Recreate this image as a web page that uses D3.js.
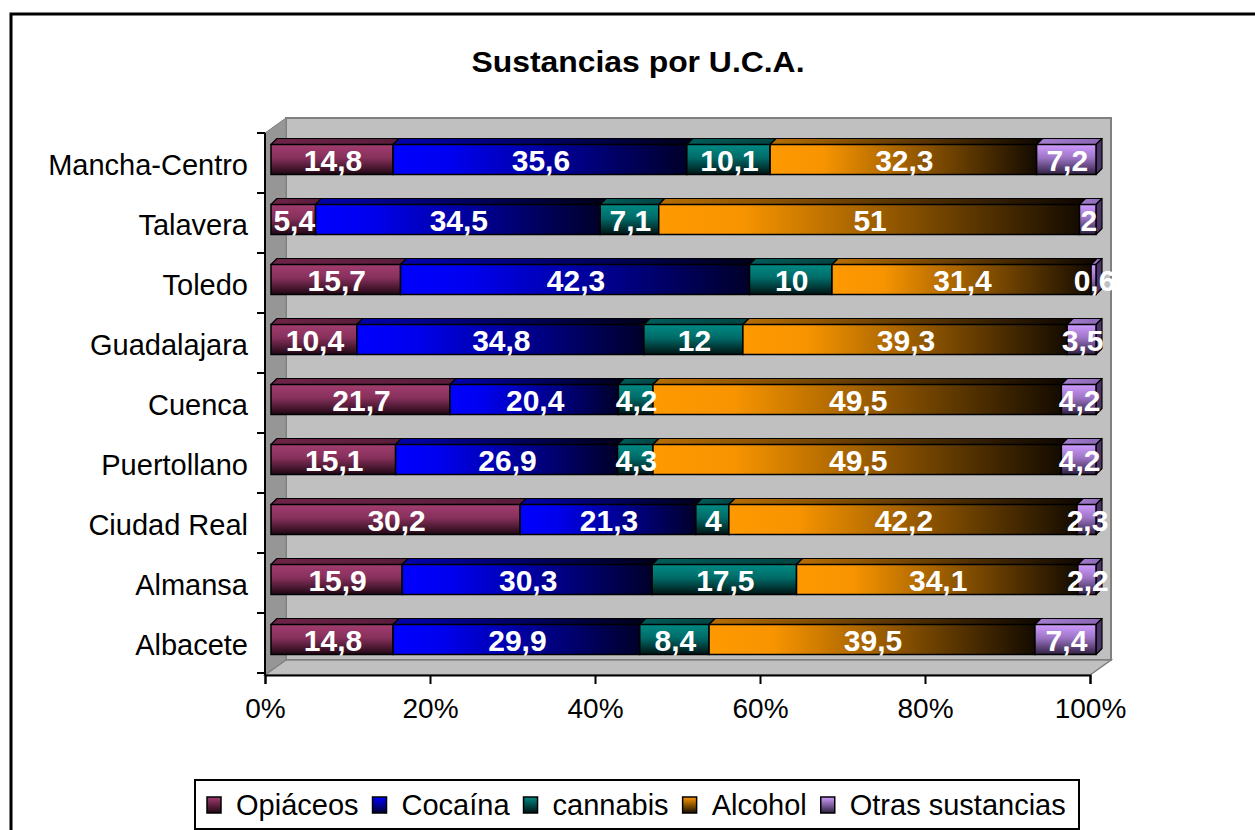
<!DOCTYPE html>
<html>
<head>
<meta charset="utf-8">
<script src="https://cdn.jsdelivr.net/npm/d3@7"></script>
<style>
  html, body { margin: 0; padding: 0; background: #fff; }
  svg { display: block; }
  text { font-family: "Liberation Sans", Arial, sans-serif; }
</style>
</head>
<body>
<svg id="chart" width="1255" height="830"></svg>
<script>
// ---- data ----
const categories = ["Mancha-Centro", "Talavera", "Toledo", "Guadalajara", "Cuenca", "Puertollano", "Ciudad Real", "Almansa", "Albacete"];
const seriesNames = ["Opiáceos", "Cocaína", "cannabis", "Alcohol", "Otras sustancias"];
const opiaceos = [14.8, 5.4, 15.7, 10.4, 21.7, 15.1, 30.2, 15.9, 14.8];
const cocaina  = [35.6, 34.5, 42.3, 34.8, 20.4, 26.9, 21.3, 30.3, 29.9];
const cannabis = [10.1, 7.1, 10, 12, 4.2, 4.3, 4, 17.5, 8.4];
const alcohol  = [32.3, 51, 31.4, 39.3, 49.5, 49.5, 42.2, 34.1, 39.5];
const otras    = [7.2, 2, 0.6, 3.5, 4.2, 4.2, 2.3, 2.2, 7.4];
const xTicks = [0, 20, 40, 60, 80, 100];
const title = "Sustancias por U.C.A.";

const seriesValues = [opiaceos, cocaina, cannabis, alcohol, otras];

// ---- styles ----
const svg = d3.select("#chart");
const defs = svg.append("defs");

function grad(id, vertical, stops) {
  const g = defs.append("linearGradient").attr("id", id)
    .attr("x1", 0).attr("y1", 0)
    .attr("x2", vertical ? 0 : 1).attr("y2", vertical ? 1 : 0);
  stops.forEach(s => g.append("stop").attr("offset", s[0]).attr("stop-color", s[1]));
}
// front faces
grad("g0", true,  [[0, "#a23d70"], [0.45, "#86305b"], [1, "#1f0713"]]);
grad("g1", false, [[0, "#0000ff"], [0.2, "#0000ee"], [1, "#00002a"]]);
grad("g2", true,  [[0, "#008a84"], [0.45, "#006b68"], [1, "#001212"]]);
grad("g3", false, [[0, "#ff9900"], [0.2, "#f79400"], [1, "#140b00"]]);
grad("g4", true,  [[0, "#cf9cff"], [0.45, "#9c74c4"], [1, "#2e1f40"]]);
// top faces
grad("t0", false, [[0, "#6e2448"], [1, "#5a1c3b"]]);
grad("t1", false, [[0, "#0000b0"], [1, "#000018"]]);
grad("t2", false, [[0, "#005c5a"], [1, "#004442"]]);
grad("t3", false, [[0, "#b86e00"], [1, "#0e0700"]]);
grad("t4", false, [[0, "#a57fd0"], [1, "#8a66b3"]]);
// legend swatches (vertical)
grad("l0", true, [[0, "#a23d70"], [1, "#1f0713"]]);
grad("l1", true, [[0, "#0000ff"], [1, "#000030"]]);
grad("l2", true, [[0, "#008a84"], [1, "#001212"]]);
grad("l3", true, [[0, "#ff9900"], [1, "#1a0e00"]]);
grad("l4", true, [[0, "#cf9cff"], [1, "#2e1f40"]]);

// ---- outer frame ----
svg.append("path").attr("d", "M11,840 L11,14 L1265,14")
  .attr("fill", "none").attr("stroke", "#000").attr("stroke-width", 3);

// ---- title ----
svg.append("text").attr("x", 638).attr("y", 72).attr("text-anchor", "middle")
  .attr("font-size", 29).attr("font-weight", "bold")
  .attr("textLength", 333).attr("lengthAdjust", "spacingAndGlyphs").text(title);

// ---- scales ----
const x = d3.scaleLinear().domain([0, 100]).range([265, 1090]);
const y = d3.scaleBand().domain(categories).range([133, 673]);
const depth = [21, -15];   // wall depth
const barOff = 6;          // bar front face offset from front plane
const barDepth = [6, -6];
const barH = 30;
const xb = v => x(v) + barOff;

// ---- walls ----
const x0 = x(0), x1 = x(100), yT = y.range()[0], yB = y.range()[1] + 2;
// back wall
svg.append("rect").attr("x", x0 + depth[0]).attr("y", yT + depth[1])
  .attr("width", x1 - x0).attr("height", yB - yT)
  .attr("fill", "#c0c0c0").attr("stroke", "#808080").attr("stroke-width", 2);
// left side wall
svg.append("path")
  .attr("d", `M${x0},${yT} L${x0 + depth[0]},${yT + depth[1]} L${x0 + depth[0]},${yB + depth[1]} L${x0},${yB} Z`)
  .attr("fill", "#969696").attr("stroke", "#808080").attr("stroke-width", 1);
// floor
svg.append("path")
  .attr("d", `M${x0},${yB} L${x0 + depth[0]},${yB + depth[1]} L${x1 + depth[0]},${yB + depth[1]} L${x1},${yB} Z`)
  .attr("fill", "#c0c0c0").attr("stroke", "#808080").attr("stroke-width", 1.5);

// ---- bars ----
const stacked = categories.map((c, i) => {
  let acc = 0;
  return seriesValues.map((arr, s) => {
    const v = arr[i];
    const seg = { cat: c, s, v, x0: acc, x1: acc + v };
    acc += v;
    return seg;
  });
});

const gBars = svg.append("g");
stacked.forEach(row => {
  const row_g = gBars.append("g");
  row.forEach((seg, k) => {
    const cy = y(seg.cat) + y.bandwidth() / 2 - 3.5;
    const top = cy - barH / 2, bot = cy + barH / 2;
    const L = xb(seg.x0), R = xb(seg.x1);
    // top face
    row_g.append("path")
      .attr("d", `M${L},${top} L${L + barDepth[0]},${top + barDepth[1]} L${R + barDepth[0]},${top + barDepth[1]} L${R},${top} Z`)
      .attr("fill", `url(#t${seg.s})`).attr("stroke", "#000").attr("stroke-width", 1.2).attr("stroke-linejoin", "round");
    // right side for last segment
    if (k === row.length - 1) {
      row_g.append("path")
        .attr("d", `M${R},${top} L${R + barDepth[0]},${top + barDepth[1]} L${R + barDepth[0]},${bot + barDepth[1]} L${R},${bot} Z`)
        .attr("fill", "#4b3468").attr("stroke", "#000").attr("stroke-width", 1.2).attr("stroke-linejoin", "round");
    }
    // front face
    row_g.append("rect").attr("x", L).attr("y", top).attr("width", Math.max(0, R - L)).attr("height", barH)
      .attr("fill", `url(#g${seg.s})`).attr("stroke", "#000").attr("stroke-width", 1.5);
  });
  // labels
  row.forEach(seg => {
    const cy = y(seg.cat) + y.bandwidth() / 2 - 3.5;
    row_g.append("text")
      .attr("x", (xb(seg.x0) + xb(seg.x1)) / 2 + 1)
      .attr("y", cy + 11)
      .attr("text-anchor", "middle")
      .attr("font-size", 30).attr("font-weight", "bold").attr("fill", "#fff")
      .text(String(seg.v).replace(".", ","));
  });
});

// ---- axes ----
const xAxis = svg.append("g").attr("transform", `translate(0,${yB})`)
  .call(d3.axisBottom(x).tickValues(xTicks).tickFormat(d => d + "%").tickSize(9).tickPadding(14));
xAxis.select(".domain").attr("stroke", "#000").attr("stroke-width", 2);
xAxis.selectAll(".tick line").attr("stroke", "#000").attr("stroke-width", 2);
xAxis.selectAll(".tick text").attr("font-size", 28).attr("fill", "#000")
  .style("font-family", '"Liberation Sans", Arial, sans-serif');

const yAxis = svg.append("g").attr("transform", `translate(${x0},0)`)
  .call(d3.axisLeft(y).tickSize(0).tickPadding(17));
yAxis.select(".domain").remove();
yAxis.selectAll(".tick text").attr("font-size", 29).attr("fill", "#000").attr("dy", "0.42em")
  .style("font-family", '"Liberation Sans", Arial, sans-serif');
// category axis line and band ticks
svg.append("line").attr("x1", x0).attr("x2", x0).attr("y1", yT).attr("y2", yB)
  .attr("stroke", "#000").attr("stroke-width", 2);
const bandEdges = categories.map(c => y(c)).concat([y.range()[1]]);
svg.selectAll(".ctick").data(bandEdges).enter().append("line")
  .attr("x1", x0 - 8).attr("x2", x0).attr("y1", d => d).attr("y2", d => d)
  .attr("stroke", "#000").attr("stroke-width", 2);

// ---- legend ----
const lg = svg.append("g");
lg.append("rect").attr("x", 195).attr("y", 780).attr("width", 884).attr("height", 49)
  .attr("fill", "#fff").attr("stroke", "#000").attr("stroke-width", 2);
let lx = 207;
seriesNames.forEach((name, i) => {
  lg.append("rect").attr("x", lx).attr("y", 797).attr("width", 14).attr("height", 16)
    .attr("fill", `url(#l${i})`).attr("stroke", "#000").attr("stroke-width", 1.5);
  const t = lg.append("text").attr("x", lx + 29).attr("y", 815).attr("font-size", 29).attr("fill", "#000").text(name);
  lx += 29 + t.node().getComputedTextLength() + 14;
});
</script>
</body>
</html>
